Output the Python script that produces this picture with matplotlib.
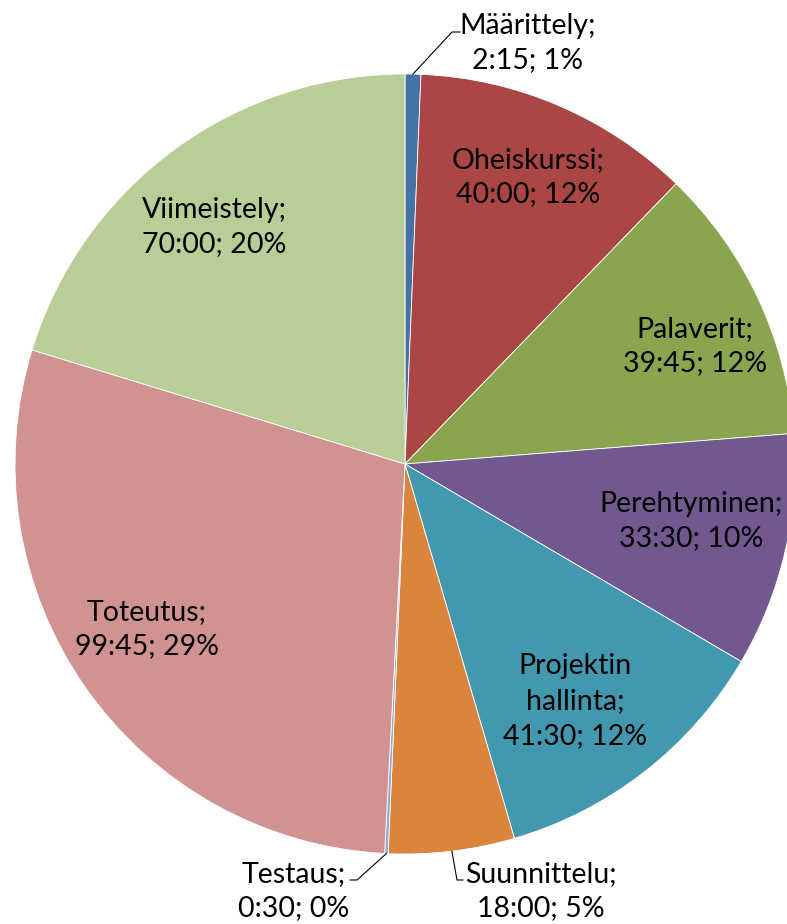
"""Työtuntien jakauma piirakkakaaviona (Excel-tyylinen ulkoasu)."""

import textwrap

import matplotlib

matplotlib.use("Agg")
import matplotlib.pyplot as plt
import numpy as np

plt.rcParams["font.family"] = ["Lato", "DejaVu Sans"]


categories = [
    "Määrittely",
    "Oheiskurssi",
    "Palaverit",
    "Perehtyminen",
    "Projektin hallinta",
    "Suunnittelu",
    "Testaus",
    "Toteutus",
    "Viimeistely",
]
durations = ["2:15", "40:00", "39:45", "33:30", "41:30", "18:00", "0:30", "99:45", "70:00"]
colors = [
    "#4572A7",
    "#AA4643",
    "#89A54E",
    "#71588F",
    "#4198AF",
    "#DB843D",
    "#93A9CF",
    "#D19392",
    "#B9CD96",
]

# kuvan pikselikoordinaatit (y alaspäin), muunnetaan piirrettäessä
W, H = 787, 924
CX, CY, R = 405, 464, 390
label_pos = [
    (528, 43),
    (528, 177),
    (695, 346),
    (691, 521),
    (575, 701),
    (541, 891),
    (294, 891),
    (147, 629),
    (214, 227),
]
# ulkopuolisten selitteiden viivat: (taitekohta, loppupiste)
leaders = {
    0: ((452, 32), (460, 32)),
    5: ((457, 880), (463, 880)),
    6: ((357, 880), (350, 880)),
}


def to_hours(text):
    h, m = text.split(":")
    return int(h) + int(m) / 60


def main():
    hours = np.array([to_hours(d) for d in durations])
    percents = np.round(hours / hours.sum() * 100).astype(int)

    fig = plt.figure(figsize=(W / 100, H / 100), dpi=100)
    ax = fig.add_axes([0, 0, 1, 1])
    wedges, _ = ax.pie(
        hours,
        colors=colors,
        startangle=90,
        counterclock=False,
        radius=R,
        center=(CX, H - CY),
        wedgeprops=dict(edgecolor="white", linewidth=0.6),
    )
    ax.set_xlim(0, W)
    ax.set_ylim(0, H)
    ax.set_aspect("equal")
    ax.axis("off")

    for i, (name, dur, pct) in enumerate(zip(categories, durations, percents)):
        label = textwrap.fill(f"{name};", 14) + f"\n{dur}; {pct}%"
        x, y = label_pos[i]
        ax.text(x, H - y, label, ha="center", va="center", fontsize=20.5, linespacing=1.42)

        if i in leaders:
            w = wedges[i]
            mid = np.deg2rad((w.theta1 + w.theta2) / 2)
            sx = CX + R * np.cos(mid)
            sy = (H - CY) + R * np.sin(mid)
            (ex, ey), (fx, fy) = leaders[i]
            ax.plot([sx, ex, fx], [sy, H - ey, H - fy], color="black", linewidth=0.8)

    fig.savefig("out.png", dpi=100)
    plt.close(fig)


if __name__ == "__main__":
    main()
